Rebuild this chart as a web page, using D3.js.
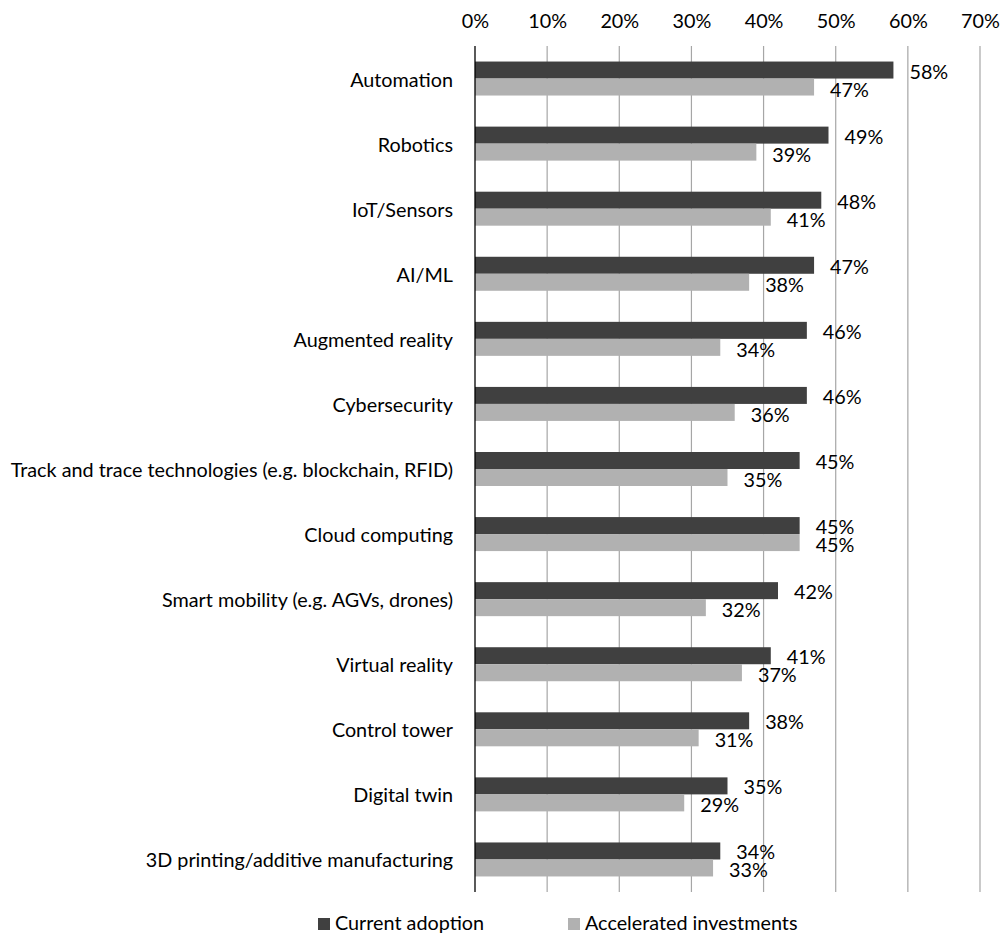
<!DOCTYPE html>
<html>
<head>
<meta charset="utf-8">
<script src="https://cdn.jsdelivr.net/npm/d3@7"></script>
<style>
  html, body { margin: 0; padding: 0; background: #fff; }
  svg { display: block; font-family: Lato, "Noto Sans", sans-serif; }
</style>
</head>
<body>
<svg id="chart" width="1004" height="934"></svg>
<script>
const categories = [
  "Automation", "Robotics", "IoT/Sensors", "AI/ML", "Augmented reality",
  "Cybersecurity", "Track and trace technologies (e.g. blockchain, RFID)",
  "Cloud computing", "Smart mobility (e.g. AGVs, drones)", "Virtual reality",
  "Control tower", "Digital twin", "3D printing/additive manufacturing"
];
const currentAdoption = [58, 49, 48, 47, 46, 46, 45, 45, 42, 41, 38, 35, 34];
const acceleratedInvestments = [47, 39, 41, 38, 34, 36, 35, 45, 32, 37, 31, 29, 33];
const seriesNames = ["Current adoption", "Accelerated investments"];
const seriesColors = ["#404040", "#b1b1b1"];
const tickValues = [0, 10, 20, 30, 40, 50, 60, 70];

const svg = d3.select("#chart");
const fontSize = 19.8;

const x = d3.scaleLinear().domain([0, 70]).range([475, 980]);
const y = d3.scaleBand().domain(categories).range([46, 892]).paddingInner(0).paddingOuter(0);
const barH = 17;

// gridlines
svg.append("g").selectAll("line")
  .data(tickValues.filter(d => d > 0))
  .join("line")
  .attr("x1", d => x(d)).attr("x2", d => x(d))
  .attr("y1", 46).attr("y2", 892)
  .attr("stroke", "#a6a6a6").attr("stroke-width", 1.2);

// top axis
const axis = d3.axisTop(x).tickValues(tickValues).tickFormat(d => d + "%").tickSize(0).tickPadding(0);
const gAxis = svg.append("g").attr("transform", "translate(0,28)").call(axis);
gAxis.select(".domain").remove();
gAxis.selectAll("text").attr("font-size", fontSize).attr("fill", "#000").attr("font-family", "Lato, sans-serif");

const rows = categories.map((c, i) => ({ c, a: currentAdoption[i], b: acceleratedInvestments[i] }));
const gRows = svg.append("g");

// current adoption bars
gRows.selectAll("rect.a").data(rows).join("rect").attr("class", "a")
  .attr("x", x(0)).attr("y", d => y(d.c) + y.bandwidth() / 2 - barH)
  .attr("width", d => x(d.a) - x(0)).attr("height", barH)
  .attr("fill", seriesColors[0]);
// accelerated bars
gRows.selectAll("rect.b").data(rows).join("rect").attr("class", "b")
  .attr("x", x(0)).attr("y", d => y(d.c) + y.bandwidth() / 2)
  .attr("width", d => x(d.b) - x(0)).attr("height", barH)
  .attr("fill", seriesColors[1]);

// value labels
gRows.selectAll("text.la").data(rows).join("text").attr("class", "la")
  .attr("x", d => x(d.a) + 16).attr("y", d => y(d.c) + y.bandwidth() / 2 - barH / 2 + 0.5)
  .attr("dominant-baseline", "central").attr("font-size", fontSize).attr("fill", "#000")
  .text(d => d.a + "%");
gRows.selectAll("text.lb").data(rows).join("text").attr("class", "lb")
  .attr("x", d => x(d.b) + 16).attr("y", d => y(d.c) + y.bandwidth() / 2 + barH / 2 + 1.5)
  .attr("dominant-baseline", "central").attr("font-size", fontSize).attr("fill", "#000")
  .text(d => d.b + "%");

// axis line at 0
svg.append("line").attr("x1", x(0)).attr("x2", x(0)).attr("y1", 46).attr("y2", 892)
  .attr("stroke", "#000").attr("stroke-width", 1.3);

// category labels
svg.append("g").selectAll("text").data(categories).join("text")
  .attr("x", 453).attr("y", d => y(d) + y.bandwidth() / 2)
  .attr("text-anchor", "end").attr("dominant-baseline", "central")
  .attr("font-size", fontSize).attr("fill", "#000")
  .text(d => d);

// legend
const legendX = [318, 568];
const lg = svg.append("g").selectAll("g").data(seriesNames).join("g")
  .attr("transform", (d, i) => `translate(${legendX[i]},922)`);
lg.append("rect").attr("x", 0).attr("y", -4).attr("width", 12).attr("height", 12)
  .attr("fill", (d, i) => seriesColors[i]);
lg.append("text").attr("x", 17).attr("y", 0).attr("dominant-baseline", "central")
  .attr("font-size", fontSize).attr("fill", "#000").text(d => d);
</script>
</body>
</html>
